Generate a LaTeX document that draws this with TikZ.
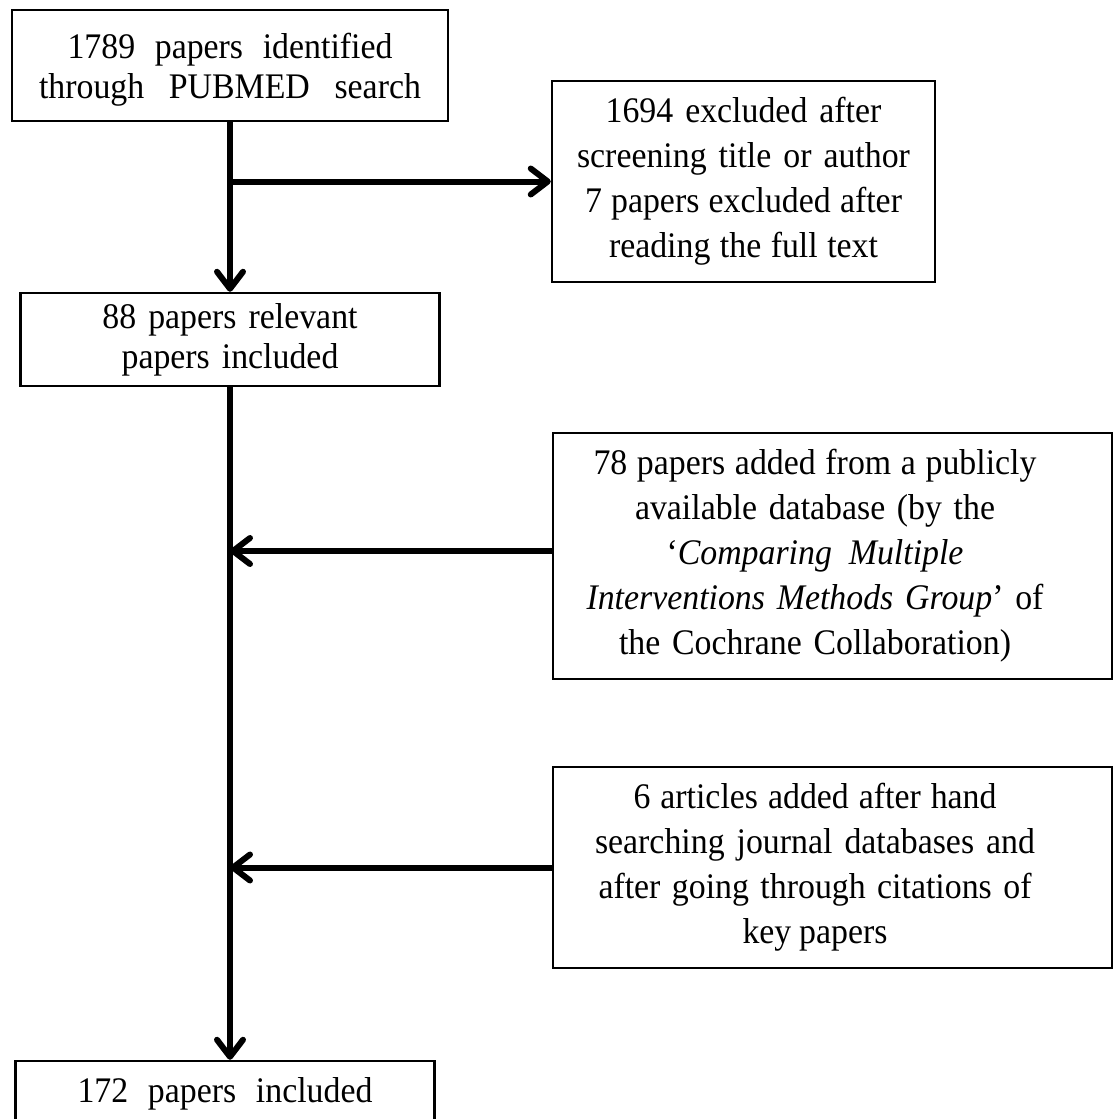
\documentclass[tikz,border=0pt]{standalone}
\usepackage{fontspec}
\setmainfont[FakeStretch=0.94]{Liberation Serif}
\usetikzlibrary{arrows.meta}
\newcommand\bxfont{\fontsize{36}{45}\selectfont\spaceskip=0.25em plus 3em minus 0.05em\relax}
\newcommand\lw[2]{{\spaceskip=0.25em plus 3em minus 0.05em\relax\makebox[#1][s]{#2}}}
\begin{document}
\begin{tikzpicture}[x=1pt,y=-1pt,
  box/.style={draw, line width=2.5pt, align=center, inner sep=0pt, font=\bxfont},
  conn/.style={line width=6pt, -{Straight Barb[length=17pt,width=26pt,round]}}]
\useasboundingbox (0,0) rectangle (1113,1119);

\node[box, minimum width=436pt, minimum height=111pt, text width=430pt] (A) at (230,65.5)
  {\rule{0pt}{34pt}\lw{325pt}{1789 papers identified}\\[-5pt]\lw{382pt}{through PUBMED search}};
\node[box, minimum width=383pt, minimum height=201pt, text width=375pt] (B) at (743.5,181.5)
  {1694 excluded after\\screening title or author\\\lw{317pt}{7 papers excluded after}\\\lw{269pt}{reading the full text}};
\node[box, minimum width=419pt, minimum height=93pt, text width=410pt] (C) at (230,339.5)
  {88 papers relevant\\[-5pt]papers included};
\node[box, minimum width=559pt, minimum height=246pt, inner xsep=10pt] (D) at (832.5,556)
  {\parbox{504pt}{\centering\bxfont \lw{443pt}{78 papers added from a publicly}\\\lw{360pt}{available database (by the}\\\lw{297pt}{‘\textit{Comparing Multiple}}\\\lw{457pt}{\textit{Interventions Methods Group}’ of}\\\lw{392pt}{the Cochrane Collaboration)}}\hspace{35pt}};
\node[box, minimum width=559pt, minimum height=201pt, inner xsep=10pt] (E) at (832.5,867.5)
  {\parbox{504pt}{\centering\bxfont \lw{363pt}{6 articles added after hand}\\\lw{440pt}{searching journal databases and}\\\lw{433pt}{after going through citations of}\\\lw{145pt}{key papers}}\hspace{35pt}};
\node[box, minimum width=419pt, minimum height=66pt, text width=410pt] (F) at (225,1094)
  {\lw{295pt}{172 papers included}};

\draw[conn] (A.south) -- (A.south |- C.north);
\draw[conn] (A.south |- B.west) -- (B.west);
\draw[conn] (C.south) -- (C.south |- F.north);
\coordinate (d1) at ([yshift=5pt]D.west);
\draw[conn] (d1) -- (d1 -| C.south);
\draw[conn] (E.west) -- (E.west -| C.south);
\end{tikzpicture}
\end{document}
